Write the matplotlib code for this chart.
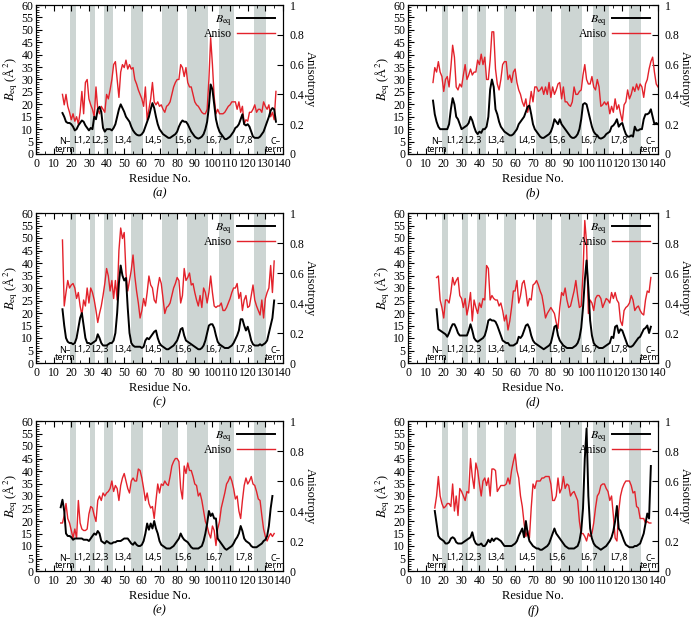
import numpy as np
import matplotlib
matplotlib.use("Agg")
import matplotlib.pyplot as plt
from matplotlib.ticker import MultipleLocator, FuncFormatter

plt.rcParams["font.family"] = "serif"
plt.rcParams["font.serif"] = ["Liberation Serif", "DejaVu Serif"]
plt.rcParams["mathtext.fontset"] = "stix"

# loop regions (shaded) and loop labels, same for every panel
bands = [(19, 22.5), (30.5, 33.5), (38.5, 43.5), (54, 60.5),
         (71.5, 80.5), (85.5, 97.5), (103.5, 112.5), (123.5, 130.5)]
loop_names = ["N\u2013\nterm", "L1,2", "L2,3", "L3,4", "L4,5", "L5,6", "L6,7", "L7,8", "C\u2013\nterm"]
loop_pos = [16.4, 26.2, 36.2, 49.4, 66.4, 83.4, 101, 118, 135.8]

# ---- panel (a) ----
start_a = 15
beq_a = [16.5, 15, 13, 12.5, 12.5, 12, 11, 9.5, 10, 11.5,
         12.5, 13.5, 13, 11.5, 10.5, 9.5, 10.5, 10, 15, 14,
         18, 19, 17, 10.5, 9, 10, 10, 10, 9.5, 10.5,
         12, 15, 18, 20, 18.5, 17, 15, 14, 13, 11,
         9.5, 8.5, 7.8, 7.5, 7.5, 8, 9, 11, 13, 15,
         18, 20.5, 18.5, 15, 12, 10, 9, 8, 7.5, 7,
         6.5, 6.5, 7, 7.5, 8, 9, 11, 12.5, 13.5, 13,
         13, 12, 10.5, 9, 8, 7, 6.5, 6.2, 6.5, 7,
         8, 10, 13, 19, 28, 26, 20, 14, 11, 9,
         8, 7, 6, 6, 6.5, 7, 8, 9, 10.5, 11,
         12, 14, 16, 12, 11.5, 12, 11, 9, 7, 6.5,
         6.5, 6.5, 7, 8, 9, 11, 13, 15, 17.5, 18.5,
         18, 13]
aniso_a = [0.40, 0.33, 0.40, 0.32, 0.28, 0.23, 0.27, 0.22, 0.25, 0.20,
           0.28, 0.42, 0.27, 0.48, 0.50, 0.37, 0.33, 0.30, 0.25, 0.45,
           0.30, 0.27, 0.32, 0.30, 0.28, 0.40, 0.37, 0.43, 0.50, 0.60,
           0.62, 0.50, 0.38, 0.55, 0.60, 0.58, 0.63, 0.57, 0.60, 0.57,
           0.58, 0.50, 0.47, 0.43, 0.40, 0.37, 0.32, 0.45, 0.23, 0.30,
           0.37, 0.48, 0.35, 0.33, 0.35, 0.32, 0.33, 0.30, 0.28, 0.32,
           0.33, 0.35, 0.40, 0.45, 0.48, 0.50, 0.50, 0.60, 0.58, 0.52,
           0.58, 0.48, 0.45, 0.45, 0.40, 0.35, 0.33, 0.32, 0.30, 0.28,
           0.27, 0.27, 0.30, 0.50, 0.78, 0.60, 0.38, 0.27, 0.30, 0.27,
           0.27, 0.27, 0.28, 0.30, 0.32, 0.33, 0.35, 0.35, 0.35, 0.30,
           0.35, 0.28, 0.32, 0.20, 0.23, 0.22, 0.28, 0.28, 0.30, 0.33,
           0.28, 0.30, 0.30, 0.28, 0.35, 0.32, 0.30, 0.33, 0.25, 0.28,
           0.23, 0.42]

# ---- panel (b) ----
start_b = 14
beq_b = [21.5, 16, 13, 11, 10, 10, 10, 10, 10, 12,
         18, 22.5, 20, 15, 14, 12, 10, 10.5, 11, 11.5,
         12.5, 15, 13.5, 11, 9, 8, 9, 8.5, 10, 10,
         11, 15, 26, 30, 27, 18, 16, 13, 11, 10,
         9, 8.5, 8, 7.5, 7.5, 8, 9, 10, 12, 13,
         14, 15, 17, 19, 19.5, 16, 12, 10, 9, 8,
         7, 6.5, 6.5, 7, 7.5, 8, 9, 11, 14, 13,
         12, 14, 12, 11, 10, 9, 8, 7, 6.5, 6.5,
         7, 8, 10, 14, 20, 20.5, 20, 17, 14, 11,
         9, 8, 7.5, 6.5, 6.2, 6.5, 7, 8, 8.5, 9,
         11, 11.5, 12.5, 14, 11, 12, 12.5, 10, 8, 7,
         7, 7.5, 7, 11, 9.5, 9.5, 10, 10, 14, 16,
         16, 16.5, 18, 15, 12, 12.5, 12]
aniso_b = [0.48, 0.58, 0.55, 0.62, 0.55, 0.52, 0.42, 0.50, 0.52, 0.45,
           0.58, 0.73, 0.65, 0.45, 0.43, 0.47, 0.45, 0.53, 0.60, 0.50,
           0.53, 0.57, 0.53, 0.55, 0.55, 0.63, 0.60, 0.67, 0.60, 0.65,
           0.50, 0.50, 0.63, 0.82, 0.82, 0.57, 0.47, 0.43, 0.50, 0.60,
           0.62, 0.62, 0.50, 0.53, 0.48, 0.55, 0.57, 0.48, 0.43, 0.40,
           0.35, 0.32, 0.37, 0.28, 0.33, 0.42, 0.35, 0.45, 0.45, 0.42,
           0.43, 0.45, 0.40, 0.45, 0.40, 0.48, 0.38, 0.45, 0.40, 0.43,
           0.47, 0.48, 0.37, 0.45, 0.35, 0.35, 0.33, 0.32, 0.35, 0.45,
           0.40, 0.40, 0.42, 0.43, 0.53, 0.60, 0.50, 0.47, 0.47, 0.52,
           0.45, 0.43, 0.50, 0.45, 0.32, 0.33, 0.35, 0.33, 0.35, 0.27,
           0.32, 0.28, 0.37, 0.30, 0.33, 0.27, 0.22, 0.33, 0.35, 0.43,
           0.37, 0.40, 0.45, 0.42, 0.47, 0.43, 0.47, 0.45, 0.38, 0.47,
           0.50, 0.57, 0.62, 0.65, 0.55, 0.47, 0.45]

# ---- panel (c) ----
start_c = 15
beq_c = [21.5, 15, 10, 8.5, 8, 8, 7.5, 8, 10, 14,
         18, 20, 15, 10, 8, 8, 7.5, 8, 8.5, 9,
         11.5, 10, 8, 7, 7, 7, 7.5, 8, 8, 9,
         12, 20, 32, 39, 35, 33, 34, 22, 12, 8,
         7, 6.5, 6.5, 6.5, 6.5, 6, 6.5, 9, 10, 9.5,
         10.5, 11.5, 12.5, 13, 10, 8, 7, 6.5, 6, 5.5,
         5.5, 6, 6.5, 7, 8, 9, 11, 13.5, 14, 11,
         9, 8.5, 8, 7.5, 7, 6.5, 6, 5.5, 5.5, 6,
         7, 9, 12, 15, 15.5, 15.5, 14, 11, 8.5, 7.5,
         7, 6.5, 6, 6, 6, 6.5, 7, 8, 9.5, 11,
         13, 17.5, 17.5, 15, 13, 14.5, 12, 9, 7.5, 7,
         7, 7, 7.5, 7, 7.5, 8, 9, 12, 15, 18,
         25]
aniso_c = [0.82, 0.38, 0.47, 0.55, 0.50, 0.52, 0.53, 0.50, 0.43, 0.47,
           0.38, 0.32, 0.42, 0.38, 0.50, 0.40, 0.50, 0.47, 0.42, 0.35,
           0.27, 0.33, 0.38, 0.45, 0.53, 0.63, 0.58, 0.48, 0.55, 0.43,
           0.55, 0.42, 0.75, 0.90, 0.83, 0.87, 0.60, 0.48, 0.55, 0.62,
           0.72, 0.58, 0.48, 0.40, 0.30, 0.35, 0.43, 0.38, 0.47, 0.58,
           0.52, 0.50, 0.42, 0.40, 0.50, 0.57, 0.53, 0.43, 0.33, 0.37,
           0.38, 0.40, 0.45, 0.50, 0.53, 0.57, 0.55, 0.40, 0.45, 0.63,
           0.55, 0.57, 0.60, 0.52, 0.53, 0.47, 0.42, 0.38, 0.45, 0.37,
           0.50, 0.47, 0.40, 0.47, 0.58, 0.47, 0.38, 0.37, 0.38, 0.38,
           0.40, 0.35, 0.35, 0.37, 0.40, 0.43, 0.47, 0.50, 0.50, 0.53,
           0.43, 0.47, 0.35, 0.42, 0.45, 0.37, 0.38, 0.45, 0.52, 0.42,
           0.38, 0.35, 0.32, 0.42, 0.30, 0.43, 0.47, 0.50, 0.65, 0.47,
           0.68]

# ---- panel (d) ----
start_d = 16
beq_d = [21.5, 13.5, 13, 12.5, 12, 11.5, 10.5, 12, 14, 15.5,
         15.5, 14, 12, 11, 11, 11, 11, 11, 13, 15.5,
         13, 10, 9, 8.5, 9, 9.5, 10, 11, 13.5, 17,
         17.5, 17, 17, 16.5, 15, 13, 11, 9, 8.5, 8,
         8, 7, 7, 7, 7.5, 8, 10.5, 10, 11, 13,
         15, 15.5, 14, 11, 9, 8, 7.5, 7, 6.5, 6,
         5.5, 6, 6.5, 7, 8, 11, 14.5, 15, 11, 9,
         8, 7, 6.5, 6, 6, 6, 6, 6.5, 7, 8,
         10, 14, 22, 33, 41, 30, 17, 11, 8, 7,
         6.5, 6, 6, 6, 6.5, 7, 7.5, 8, 10.5, 10,
         14.5, 15, 12, 13.5, 13, 11, 9, 7, 6.5, 6.5,
         7, 8, 9, 10, 10.5, 12, 13.5, 14, 15, 12,
         14.5]
aniso_d = [0.57, 0.58, 0.42, 0.37, 0.30, 0.42, 0.42, 0.40, 0.47, 0.57,
           0.52, 0.55, 0.57, 0.45, 0.43, 0.37, 0.43, 0.32, 0.38, 0.47,
           0.28, 0.42, 0.37, 0.33, 0.40, 0.37, 0.43, 0.42, 0.65, 0.63,
           0.42, 0.45, 0.43, 0.42, 0.42, 0.38, 0.40, 0.35, 0.28, 0.32,
           0.22, 0.28, 0.37, 0.48, 0.48, 0.55, 0.40, 0.45, 0.53, 0.55,
           0.48, 0.38, 0.43, 0.42, 0.52, 0.53, 0.55, 0.52, 0.48, 0.45,
           0.38, 0.30, 0.33, 0.35, 0.37, 0.35, 0.33, 0.27, 0.23, 0.37,
           0.47, 0.45, 0.50, 0.42, 0.37, 0.38, 0.43, 0.48, 0.55, 0.45,
           0.37, 0.38, 0.60, 0.95, 0.80, 0.33, 0.42, 0.40, 0.35, 0.43,
           0.45, 0.45, 0.43, 0.37, 0.40, 0.43, 0.42, 0.40, 0.47, 0.43,
           0.47, 0.42, 0.40, 0.28, 0.25, 0.35, 0.37, 0.38, 0.40, 0.45,
           0.42, 0.35, 0.37, 0.38, 0.35, 0.33, 0.32, 0.42, 0.48, 0.47,
           0.57]

# ---- panel (e) ----
start_e = 14
beq_e = [25.5, 28.5, 24, 15, 14, 14, 13.5, 12.5, 13, 13,
         13, 13, 13, 12.5, 12.5, 12.5, 12, 13, 14, 15,
         14.5, 16, 15, 12, 11.5, 11, 12, 11.5, 11, 11,
         11.5, 11.5, 12, 12, 12, 12.5, 13, 13, 13, 12,
         11, 10.5, 11.5, 10.5, 10, 10, 10.5, 12, 15, 19,
         16.5, 19, 17, 20, 17, 15, 12, 10.5, 10, 9.5,
         9, 9, 9, 9.5, 10, 11, 12, 13, 15, 13.5,
         12.5, 12, 11.5, 10.5, 9.5, 9, 9, 9, 9, 9.5,
         10, 12, 15, 19, 24, 22, 23, 21, 21, 13,
         12, 11, 10, 9, 8.5, 9, 9.5, 10, 11, 12.5,
         13.5, 15, 18, 16, 13, 12, 11.5, 11, 10, 9.5,
         9.5, 9.5, 10, 10.5, 11, 12, 12.5, 14, 18, 25,
         30]
aniso_e = [0.32, 0.32, 0.37, 0.45, 0.35, 0.32, 0.27, 0.22, 0.28, 0.22,
           0.47, 0.32, 0.28, 0.27, 0.27, 0.28, 0.38, 0.43, 0.42, 0.37,
           0.33, 0.47, 0.50, 0.47, 0.52, 0.50, 0.52, 0.53, 0.55, 0.60,
           0.53, 0.57, 0.55, 0.47, 0.57, 0.62, 0.65, 0.60, 0.55, 0.52,
           0.60, 0.62, 0.60, 0.60, 0.68, 0.67, 0.62, 0.55, 0.47, 0.52,
           0.45, 0.42, 0.43, 0.35, 0.47, 0.58, 0.52, 0.58, 0.57, 0.60,
           0.58, 0.57, 0.63, 0.70, 0.73, 0.75, 0.75, 0.73, 0.55, 0.48,
           0.70, 0.65, 0.72, 0.67, 0.67, 0.63, 0.58, 0.57, 0.50, 0.52,
           0.47, 0.40, 0.33, 0.30, 0.25, 0.22, 0.30, 0.27, 0.17, 0.28,
           0.33, 0.42, 0.47, 0.52, 0.58, 0.60, 0.63, 0.60, 0.55, 0.48,
           0.50, 0.40, 0.35, 0.47, 0.57, 0.62, 0.58, 0.60, 0.63, 0.58,
           0.57, 0.53, 0.48, 0.47, 0.37, 0.28, 0.23, 0.20, 0.23, 0.25,
           0.23, 0.25]

# ---- panel (f) ----
start_f = 15
beq_f = [24, 19, 14, 13, 12.5, 12, 11, 11, 11.5, 13,
         13.5, 13, 11.5, 11, 11, 11, 11.5, 12, 12.5, 13,
         13.5, 15.5, 12.5, 11, 10.5, 10.5, 11, 10, 10, 11,
         12.5, 11.5, 13, 12, 13, 13, 12.5, 12, 11, 10,
         10, 10, 10, 10, 10.5, 11, 12, 14, 15.5, 17,
         13.5, 20, 15, 12, 11, 10, 9.5, 9, 9, 8.5,
         8.5, 9, 9.5, 10, 11, 13, 15, 17, 15, 14,
         13, 12, 11, 10, 9.5, 9, 9, 9, 9, 9.5,
         10, 12, 16, 25, 45, 57, 30, 17, 13, 11,
         10, 9.5, 9, 8.5, 9, 9.5, 10, 11, 12, 13.5,
         16, 20, 26, 17, 16, 14, 12, 10.5, 10, 9.5,
         9.5, 9.5, 10, 10, 10.5, 11, 13, 15, 19, 23,
         21, 42]
aniso_f = [0.42, 0.50, 0.63, 0.50, 0.45, 0.42, 0.43, 0.45, 0.45, 0.43,
           0.58, 0.40, 0.50, 0.37, 0.55, 0.53, 0.50, 0.47, 0.53, 0.52,
           0.75, 0.63, 0.55, 0.72, 0.67, 0.58, 0.50, 0.60, 0.62, 0.57,
           0.62, 0.50, 0.68, 0.68, 0.67, 0.53, 0.55, 0.57, 0.57, 0.57,
           0.58, 0.62, 0.58, 0.67, 0.73, 0.78, 0.67, 0.62, 0.50, 0.43,
           0.32, 0.23, 0.27, 0.22, 0.42, 0.58, 0.55, 0.60, 0.60, 0.60,
           0.62, 0.62, 0.63, 0.63, 0.63, 0.58, 0.47, 0.47, 0.50, 0.62,
           0.52, 0.55, 0.63, 0.55, 0.58, 0.57, 0.50, 0.52, 0.53, 0.50,
           0.47, 0.33, 0.25, 0.25, 0.23, 0.20, 0.25, 0.23, 0.25, 0.32,
           0.42, 0.50, 0.52, 0.57, 0.58, 0.58, 0.55, 0.53, 0.47, 0.50,
           0.37, 0.22, 0.20, 0.40, 0.50, 0.55, 0.58, 0.60, 0.60, 0.60,
           0.57, 0.52, 0.53, 0.43, 0.42, 0.35, 0.35, 0.35, 0.32, 0.33,
           0.32, 0.32]

panels = [
    ("a", start_a, beq_a, aniso_a),
    ("b", start_b, beq_b, aniso_b),
    ("c", start_c, beq_c, aniso_c),
    ("d", start_d, beq_d, aniso_d),
    ("e", start_e, beq_e, aniso_e),
    ("f", start_f, beq_f, aniso_f),
]

# axes boxes in pixels: left, top, right, bottom (figure is 693 x 617)
W, H = 693, 617
boxes = {
    "a": (36, 5, 283, 154), "b": (408, 5, 658, 154),
    "c": (36, 213, 283, 363), "d": (408, 213, 658, 363),
    "e": (36, 421, 283, 571), "f": (408, 421, 658, 571),
}

fig = plt.figure(figsize=(W / 100, H / 100), dpi=100)

for tag, start, beq, aniso in panels:
    l, t, r, b = boxes[tag]
    ax = fig.add_axes([l / W, 1 - b / H, (r - l) / W, (b - t) / H])
    ax2 = ax.twinx()
    ax.set_zorder(ax2.get_zorder() + 1)
    ax.patch.set_visible(False)

    for x0, x1 in bands:
        ax2.axvspan(x0, x1, color="#cdd5d3", lw=0, zorder=0)

    res_b = np.arange(start, start + len(beq))
    res_a = np.arange(start, start + len(aniso))
    ln2, = ax2.plot(res_a, aniso, color="#e3222b", lw=1.0, zorder=2)
    ln1, = ax.plot(res_b, beq, color="black", lw=1.4, zorder=3)

    ax.set_xlim(0, 140)
    ax.set_ylim(0, 60)
    ax2.set_ylim(0, 1)
    ax.xaxis.set_major_locator(MultipleLocator(10))
    ax.xaxis.set_minor_locator(MultipleLocator(5))
    ax.yaxis.set_major_locator(MultipleLocator(5))
    ax.yaxis.set_minor_locator(MultipleLocator(1))
    ax2.yaxis.set_major_locator(MultipleLocator(0.2))
    ax2.yaxis.set_major_formatter(FuncFormatter(lambda v, p: "%g" % round(v, 2)))

    ax.tick_params(axis="x", which="both", direction="in", top=True, labelsize=8.5, pad=3)
    ax.tick_params(axis="y", which="both", direction="in", labelsize=8.5, pad=2)
    ax.tick_params(which="major", length=4)
    ax.tick_params(which="minor", length=2)
    ax2.tick_params(which="both", direction="in", labelsize=8.5, pad=5)
    ax2.tick_params(which="major", length=4)

    ax.set_xlabel("Residue No.", fontsize=9, labelpad=2)
    ax.set_ylabel(r"$B_{\rm eq}$ (Å$^2$)", fontsize=9, labelpad=1)
    ax2.set_ylabel("Anisotropy", fontsize=9, rotation=270, labelpad=8)
    ax.text(0.5, -0.265, "(" + tag + ")", transform=ax.transAxes, ha="center",
            va="center", fontsize=9, style="italic")

    for name, xp in zip(loop_names, loop_pos):
        if "\n" in name:
            ax.text(xp, 3.6, name, ha="center", va="center", fontsize=6.5,
                    family="Noto Sans", linespacing=0.85, zorder=4)
        else:
            ax.text(xp, 5.5, name, ha="center", va="center", fontsize=6.5,
                    family="Noto Sans", zorder=4)

    ax.legend([ln1, ln2], [r"$B_{\rm eq}$", "Aniso"], loc="upper right",
              markerfirst=False, frameon=False, fontsize=8.5, handlelength=3.2,
              handletextpad=0.4, labelspacing=0.05, borderaxespad=0.3)

fig.savefig("out.png", dpi=100)
